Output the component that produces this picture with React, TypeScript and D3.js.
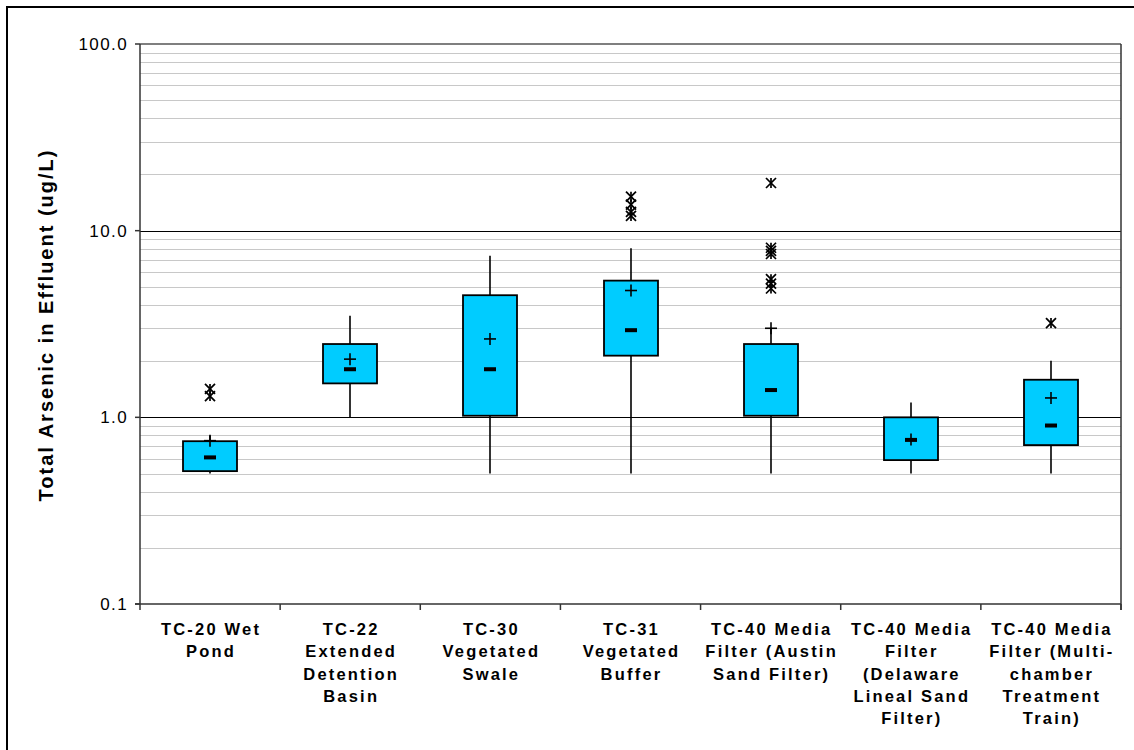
import React from "react";
import * as d3 from "d3";

const categories: string[][] = [
  ["TC-20 Wet", "Pond"],
  ["TC-22", "Extended", "Detention", "Basin"],
  ["TC-30", "Vegetated", "Swale"],
  ["TC-31", "Vegetated", "Buffer"],
  ["TC-40 Media", "Filter (Austin", "Sand Filter)"],
  ["TC-40 Media", "Filter", "(Delaware", "Lineal Sand", "Filter)"],
  ["TC-40 Media", "Filter (Multi-", "chamber", "Treatment", "Train)"],
];

const whiskerLow = [0.5, 1.0, 0.5, 0.5, 0.5, 0.5, 0.5];
const q1 = [0.515, 1.52, 1.02, 2.14, 1.02, 0.59, 0.71];
const median = [0.61, 1.81, 1.81, 2.93, 1.4, 0.757, 0.904];
const q3 = [0.745, 2.47, 4.51, 5.4, 2.47, 1.0, 1.59];
const whiskerHigh = [0.8, 3.5, 7.33, 8.06, 3.0, 1.2, 2.01];
const mean = [0.75, 2.05, 2.63, 4.78, 3.0, 0.76, 1.27];
const outliers: number[][] = [
  [1.42, 1.3],
  [],
  [],
  [15.2, 13.8, 12.6, 12.0],
  [18, 8.1, 7.8, 7.5, 5.5, 5.2, 4.9],
  [],
  [3.2],
];

const yTicks = [0.1, 1, 10, 100];
const yTitle = "Total Arsenic in Effluent (ug/L)";

const W = 1134;
const H = 750;
const left = 140;
const right = 1121;
const top = 44;
const bottom = 604;

export default function App() {
  const x = d3
    .scaleBand<number>()
    .domain(d3.range(categories.length))
    .range([left, right])
    .padding(0);
  const y = d3.scaleLog().domain([0.1, 100]).range([bottom, top]);

  const minor: number[] = [];
  for (const dec of [0.1, 1, 10]) {
    for (let k = 2; k <= 9; k++) minor.push(dec * k);
  }
  const boxW = 54;

  return (
    <svg
      width={W}
      height={H}
      style={{ position: "absolute", left: 0, top: 0, background: "#fff" }}
      fontFamily="Arial, 'Liberation Sans', sans-serif"
    >
      <rect x={7} y={7} width={W + 20} height={H + 20} fill="#fff" stroke="#000" strokeWidth={2} />

      {/* minor gridlines */}
      {minor.map((v, i) => (
        <line key={"m" + i} x1={left} x2={right} y1={Math.round(y(v)) + 0.5} y2={Math.round(y(v)) + 0.5} stroke="#c8c8c8" strokeWidth={1} />
      ))}
      {/* major gridlines */}
      {[1, 10].map((v) => (
        <line key={"M" + v} x1={left} x2={right} y1={Math.round(y(v)) + 0.5} y2={Math.round(y(v)) + 0.5} stroke="#000" strokeWidth={1} />
      ))}
      {/* plot border top/right */}
      <line x1={left} x2={right} y1={top} y2={top} stroke="#555" strokeWidth={1.5} />
      <line x1={right} x2={right} y1={top} y2={bottom + 6} stroke="#333" strokeWidth={1.5} />

      {/* axes */}
      <line x1={left} x2={left} y1={top} y2={bottom} stroke="#333" strokeWidth={1.5} />
      <line x1={left - 5} x2={right} y1={bottom} y2={bottom} stroke="#333" strokeWidth={1.5} />
      {yTicks.map((t) => (
        <g key={"t" + t}>
          <line x1={left - 5} x2={left} y1={y(t)} y2={y(t)} stroke="#333" strokeWidth={1.5} />
          <text x={left - 12} y={y(t)} dy="0.36em" textAnchor="end" fontSize={17} letterSpacing={1.4} fill="#000">
            {t.toFixed(1)}
          </text>
        </g>
      ))}
      {d3.range(categories.length + 1).map((i) => {
        const xx = i < categories.length ? x(i)! : right;
        return <line key={"xt" + i} x1={xx} x2={xx} y1={bottom} y2={bottom + 6} stroke="#333" strokeWidth={1.5} />;
      })}

      {/* y title */}
      <text
        transform={`translate(53,${325}) rotate(-90)`}
        textAnchor="middle"
        fontSize={20}
        fontWeight="bold"
        letterSpacing={2}
        fill="#000"
      >
        {yTitle}
      </text>

      {/* x labels */}
      {categories.map((lines, i) => {
        const cx = x(i)! + x.bandwidth() / 2;
        return (
          <text key={"xl" + i} textAnchor="middle" fontSize={16.5} fontWeight="bold" letterSpacing={2.2} fill="#000">
            {lines.map((l, j) => (
              <tspan key={j} x={cx + 1} y={635 + j * 22.3}>
                {l}
              </tspan>
            ))}
          </text>
        );
      })}

      {/* boxes */}
      {categories.map((_, i) => {
        const cx = Math.round(x(i)! + x.bandwidth() / 2);
        return (
          <g key={"b" + i}>
            <line x1={cx} x2={cx} y1={y(whiskerLow[i])} y2={y(whiskerHigh[i])} stroke="#000" strokeWidth={1.6} />
            <rect
              x={cx - boxW / 2}
              y={y(q3[i])}
              width={boxW}
              height={y(q1[i]) - y(q3[i])}
              fill="#00CCFF"
              stroke="#000"
              strokeWidth={1.8}
            />
            <rect x={cx - 6} y={y(median[i]) - 2} width={12} height={4} fill="#000" />
            <line x1={cx - 6} x2={cx + 6} y1={y(mean[i])} y2={y(mean[i])} stroke="#000" strokeWidth={1.6} />
            <line x1={cx} x2={cx} y1={y(mean[i]) - 6} y2={y(mean[i]) + 6} stroke="#000" strokeWidth={1.6} />
            {outliers[i].map((v, k) => {
              const yy = y(v);
              return (
                <g key={k} stroke="#000" strokeWidth={1.7}>
                  <line x1={cx - 5} x2={cx + 5} y1={yy - 5} y2={yy + 5} />
                  <line x1={cx - 5} x2={cx + 5} y1={yy + 5} y2={yy - 5} />
                  <line x1={cx} x2={cx} y1={yy - 5} y2={yy + 5} />
                </g>
              );
            })}
          </g>
        );
      })}
    </svg>
  );
}
